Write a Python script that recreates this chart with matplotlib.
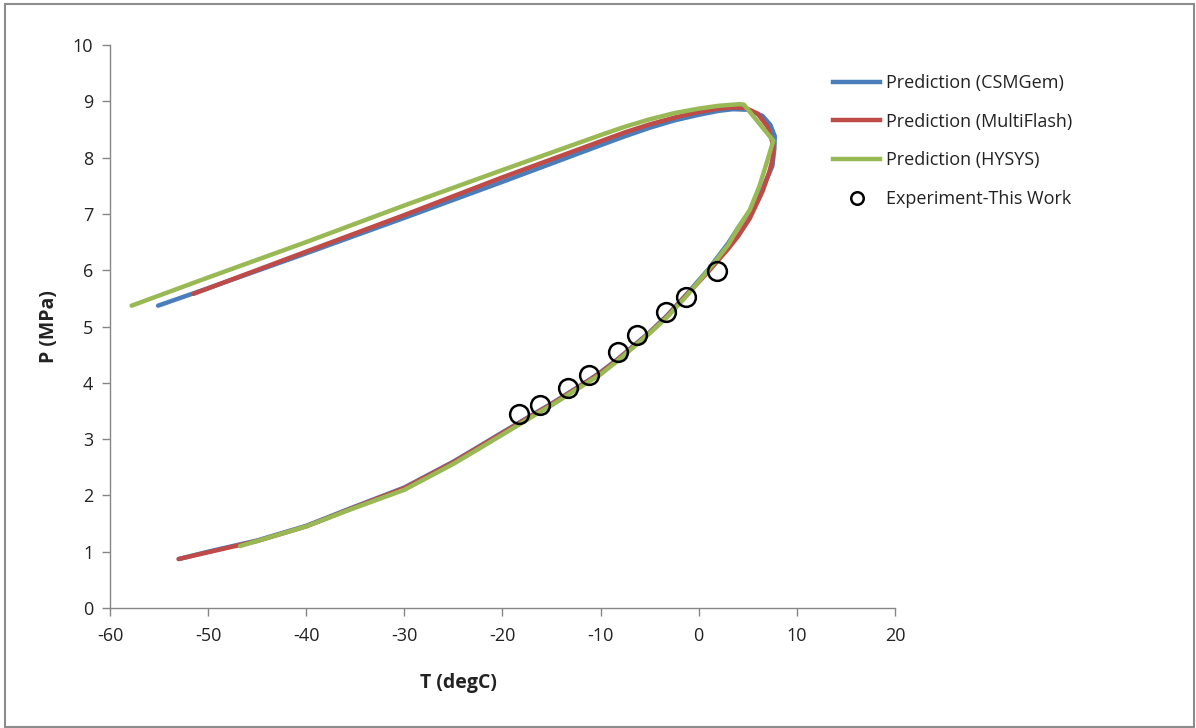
import matplotlib
matplotlib.use("Agg")
import matplotlib.pyplot as plt
from matplotlib.patches import Rectangle
from matplotlib.lines import Line2D

# ---- data ----
csm_T = [-55.1, -50, -40, -30, -20, -10, -7.5, -5, -2.5, 0, 2, 3.5, 5, 6.5, 7.3, 7.75, 7.7, 7.5, 6.5, 5.2, 4, 3, 2, 1, 0,
         -1.2, -3.2, -5, -8.2, -10, -11.1, -15, -16.2, -20, -22.3, -25, -30, -35.5, -40, -45, -50, -53]
csm_P = [5.37, 5.68, 6.30, 6.93, 7.57, 8.22, 8.38, 8.53, 8.66, 8.76, 8.83, 8.86, 8.85, 8.74, 8.58, 8.38, 8.15, 7.85, 7.45, 7.05,
         6.75, 6.48, 6.25, 6.02, 5.82, 5.58, 5.20, 4.90, 4.43, 4.19, 4.06, 3.63, 3.51, 3.12, 2.88, 2.60,
         2.14, 1.77, 1.46, 1.20, 1.00, 0.87]

mf_T = [-51.5, -40, -30, -20, -10, -7.5, -5, -2.5, 0, 2, 3.5, 4.8, 6, 7.0, 7.6, 7.5, 7.2, 6.5, 5.2, 4, 3, 2, 1, 0,
        -1.2, -3.2, -5, -8.2, -10, -11.1, -15, -16.2, -20, -22.3, -25, -30, -35.5, -40, -45, -50, -53]
mf_P = [5.58, 6.33, 6.98, 7.65, 8.29, 8.45, 8.59, 8.71, 8.81, 8.87, 8.89, 8.88, 8.78, 8.55, 8.22, 7.95, 7.75, 7.40, 6.92, 6.60,
        6.38, 6.18, 5.98, 5.79, 5.57, 5.19, 4.89, 4.42, 4.18, 4.05, 3.62, 3.50, 3.11, 2.87, 2.59,
        2.13, 1.76, 1.45, 1.19, 0.99, 0.87]

hy_T = [-57.8, -50, -40, -30, -20, -10, -7.5, -5, -2.5, 0, 2, 4.2, 4.6, 7.6, 7.0, 6.2, 5.2, 4, 3, 1.8, 0,
        -1.2, -3.2, -5, -8.2, -10, -11.1, -15, -16.2, -20, -22.3, -25, -30, -35.5, -40, -46.75]
hy_P = [5.37, 5.87, 6.50, 7.15, 7.78, 8.40, 8.55, 8.68, 8.79, 8.87, 8.92, 8.95, 8.94, 8.30, 7.95, 7.50, 7.07, 6.75,
        6.45, 6.18, 5.80, 5.55, 5.17, 4.88, 4.40, 4.15, 4.03, 3.60, 3.48, 3.08, 2.84, 2.56, 2.10,
        1.75, 1.45, 1.10]

exp_T = [-18.3, -16.2, -13.3, -11.15, -8.2, -6.25, -3.35, -1.35, 1.85]
exp_P = [3.45, 3.61, 3.90, 4.14, 4.55, 4.85, 5.25, 5.53, 5.99]

labels = ["Prediction (CSMGem)", "Prediction (MultiFlash)", "Prediction (HYSYS)", "Experiment-This Work"]
x_ticks = [-60, -50, -40, -30, -20, -10, 0, 10, 20]
y_ticks = [0, 1, 2, 3, 4, 5, 6, 7, 8, 9, 10]

# ---- figure ----
plt.rcParams['font.family'] = ['Open Sans', 'DejaVu Sans']
plt.rcParams['axes.unicode_minus'] = False
fig = plt.figure(figsize=(11.96, 7.28), dpi=100)
fig.patches.append(Rectangle((0.004, 0.002), 0.994, 0.993, transform=fig.transFigure,
                             fill=False, edgecolor='#8c8c8c', linewidth=1.5))
ax = fig.add_axes([110/1196, 1 - 608/728, (895 - 110)/1196, (608 - 45)/728])

blue = '#4a7ebb'
red = '#be4b48'
green = '#98b954'
kw = dict(linewidth=3.2, solid_capstyle='round', solid_joinstyle='round')
ax.plot(csm_T, csm_P, color=blue, label=labels[0], **kw)
ax.plot(mf_T, mf_P, color=red, label=labels[1], **kw)
ax.plot(hy_T, hy_P, color=green, label=labels[2], **kw)
ax.plot(exp_T, exp_P, linestyle='none', marker='o', markersize=13.5, markerfacecolor='none',
        markeredgecolor='black', markeredgewidth=1.8, label=labels[3])

ax.set_xlim(-60, 20)
ax.set_ylim(0, 10)
ax.set_xticks(x_ticks)
ax.set_yticks(y_ticks)
ax.tick_params(axis='both', direction='out', length=6, width=1, color='#868686',
               labelsize=13, labelcolor='#222222')
ax.tick_params(axis='x', pad=8)
ax.tick_params(axis='y', pad=6)
for s in ['top', 'right']:
    ax.spines[s].set_visible(False)
for s in ['left', 'bottom']:
    ax.spines[s].set_color('#868686')
    ax.spines[s].set_linewidth(1)

fig.text(458/1196, 1 - 683/728, "T (degC)", ha='center', va='center', fontsize=14,
         fontweight='bold', color='#222222')
fig.text(49/1196, 1 - 327/728, "P (MPa)", ha='center', va='center', fontsize=14,
         fontweight='bold', color='#222222', rotation=90)

handles = [Line2D([], [], color=blue, linewidth=3.2),
           Line2D([], [], color=red, linewidth=3.2),
           Line2D([], [], color=green, linewidth=3.2),
           Line2D([], [], linestyle='none', marker='o', markersize=9, markerfacecolor='none',
                  markeredgecolor='black', markeredgewidth=1.8)]
fig.legend(handles, labels, loc='upper left', bbox_to_anchor=(826/1196, 1 - 67/728),
           frameon=False, fontsize=13, handlelength=2.6, handletextpad=0.3,
           labelspacing=1.14, labelcolor='#222222', borderaxespad=0)

fig.savefig("out.png", dpi=100)
